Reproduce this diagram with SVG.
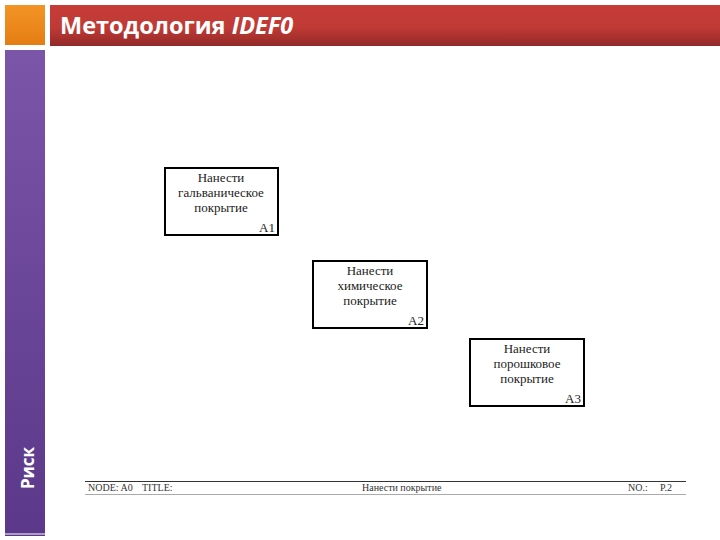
<svg xmlns="http://www.w3.org/2000/svg" width="720" height="540" viewBox="0 0 720 540">
<defs>
<linearGradient id="red" x1="0" y1="0" x2="0" y2="1">
<stop offset="0" stop-color="#c63c36"/>
<stop offset="0.55" stop-color="#c03a36"/>
<stop offset="0.85" stop-color="#a22f2c"/>
<stop offset="1" stop-color="#8e2b2b"/>
</linearGradient>
<linearGradient id="orange" x1="0" y1="0" x2="0" y2="1">
<stop offset="0" stop-color="#f39426"/>
<stop offset="1" stop-color="#e47d12"/>
</linearGradient>
<linearGradient id="purple" x1="0" y1="0" x2="0" y2="1">
<stop offset="0" stop-color="#7b55a8"/>
<stop offset="1" stop-color="#5b3889"/>
</linearGradient>
<style>
.box{fill:#fff;stroke:#000;stroke-width:2}
.bt{font-family:"Liberation Serif",serif;font-size:13px;fill:#222;text-anchor:middle}
.id{font-family:"Liberation Serif",serif;font-size:13px;fill:#222;text-anchor:end}
.ft{font-family:"Liberation Serif",serif;font-size:10px;fill:#333}
</style>
</defs>
<rect width="720" height="540" fill="#fff"/>
<g id="header">
<rect x="5" y="5" width="40" height="40" fill="url(#orange)"/>
<rect x="50" y="5" width="670" height="41" fill="url(#red)"/>
<text x="60" y="34" font-family="'Open Sans','DejaVu Sans',sans-serif" font-size="23.5" font-weight="bold" fill="#fff">Методология <tspan font-style="italic">IDEF0</tspan></text>
</g>
<g id="sidebar">
<rect x="5" y="50" width="40" height="486" fill="url(#purple)"/>
<line x1="5" y1="534" x2="45" y2="534" stroke="#fff" stroke-width="1"/>
<text transform="translate(34,468) rotate(-90)" text-anchor="middle" font-family="'Open Sans','DejaVu Sans',sans-serif" font-size="17" font-weight="bold" fill="#fff">Риск</text>
</g>
<g id="A1">
<rect class="box" x="165" y="168" width="113" height="67"/>
<text class="bt" x="221" y="182">Нанести</text>
<text class="bt" x="221" y="197">гальваническое</text>
<text class="bt" x="221" y="212">покрытие</text>
<text class="id" x="275" y="232">A1</text>
</g>
<g id="A2">
<rect class="box" x="313" y="261" width="114" height="67"/>
<text class="bt" x="370" y="275">Нанести</text>
<text class="bt" x="370" y="290">химическое</text>
<text class="bt" x="370" y="305">покрытие</text>
<text class="id" x="424" y="325">A2</text>
</g>
<g id="A3">
<rect class="box" x="470" y="339" width="114" height="67"/>
<text class="bt" x="527" y="353">Нанести</text>
<text class="bt" x="527" y="368">порошковое</text>
<text class="bt" x="527" y="383">покрытие</text>
<text class="id" x="581" y="403">A3</text>
</g>
<g id="connectors"></g>
<g id="footer">
<line x1="85" y1="481.5" x2="686" y2="481.5" stroke="#333" stroke-width="1"/>
<line x1="85" y1="494.5" x2="686" y2="494.5" stroke="#aaa" stroke-width="1"/>
<text class="ft" x="88" y="491">NODE:  A0</text>
<text class="ft" x="142" y="491">TITLE:</text>
<text class="ft" x="362" y="491">Нанести покрытие</text>
<text class="ft" x="628" y="491">NO.:</text>
<text class="ft" x="660" y="491">P.2</text>
</g>
</svg>
